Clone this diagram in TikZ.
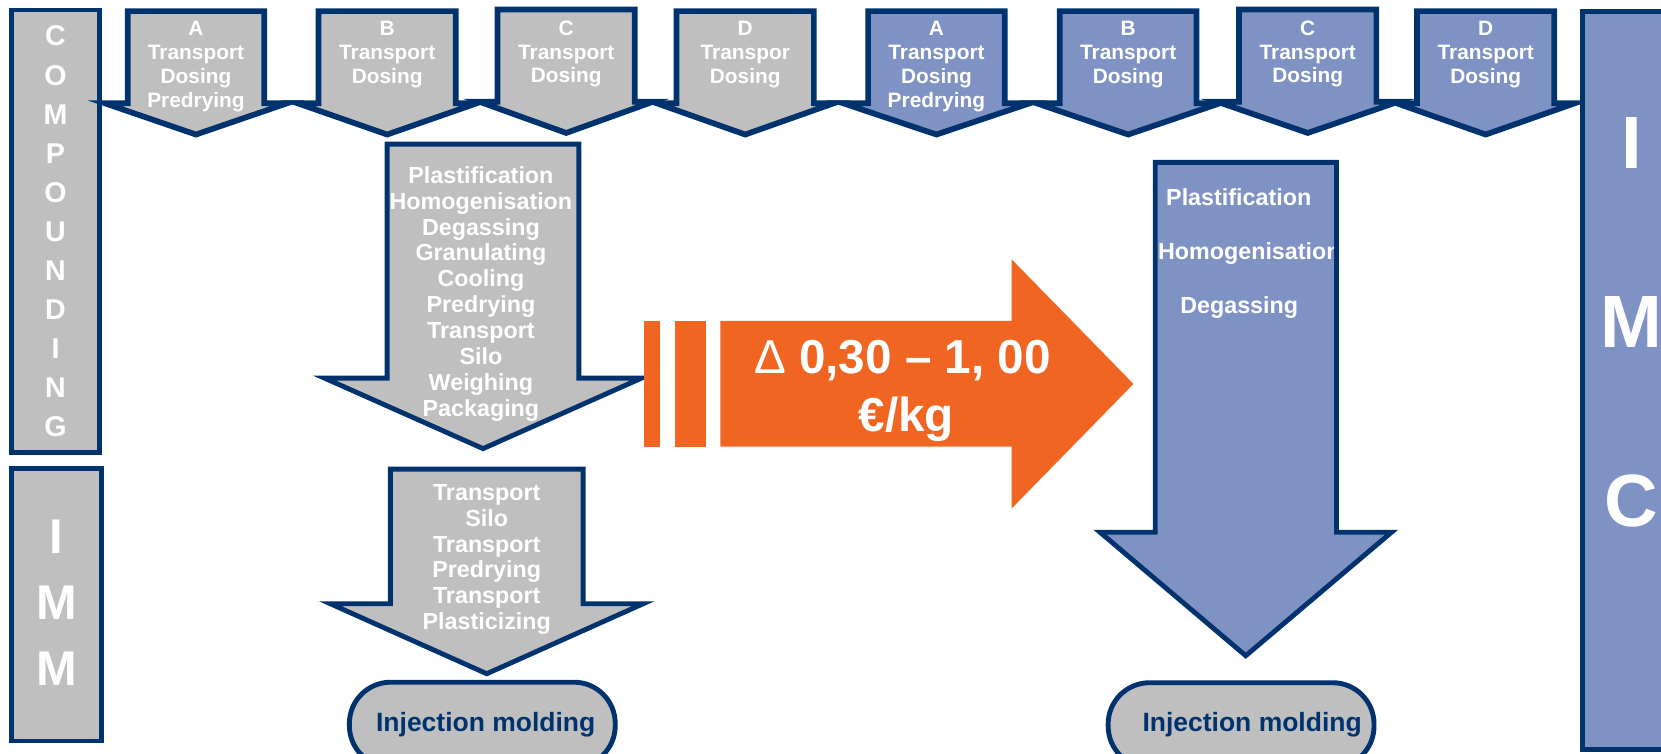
\documentclass[tikz,border=0pt]{standalone}
\usepackage{fontspec}
\setmainfont{Liberation Sans}
\definecolor{navy}{RGB}{0,51,110}
\definecolor{grayfill}{RGB}{191,191,191}
\definecolor{bluefill}{RGB}{127,146,196}
\definecolor{orangefill}{RGB}{240,101,34}
\newcommand{\dnarrow}[7]{%
  \draw[#1] ({#2-#3},#4) -- ({#2+#3},#4) -- ({#2+#3},#5) -- ({#2+#6},#5) -- (#2,#7) -- ({#2-#6},#5) -- ({#2-#3},#5) -- cycle;}
\tikzset{
  grayshape/.style={fill=grayfill, draw=navy, line width=4.6pt},
  blueshape/.style={fill=bluefill, draw=navy, line width=4.6pt},
  graychev/.style={grayshape, line width=5.4pt},
  bluechev/.style={blueshape, line width=5.4pt},
  chevtext/.style={text=white, font=\bfseries\fontsize{19.7}{22.5}\selectfont, align=center, anchor=north, inner sep=0pt},
  bigtext/.style={text=white, font=\bfseries\fontsize{22}{24.4}\selectfont, align=center, anchor=north, inner sep=0pt},
  sidetext/.style={text=white, font=\bfseries\fontsize{22}{24.4}\selectfont, anchor=base west, inner sep=0pt},
  oval/.style={fill=grayfill, draw=navy, line width=4.6pt, minimum width=251pt, minimum height=80pt, rounded corners=39pt, inner sep=0pt},
  iotext/.style={text=navy, font=\bfseries\fontsize{25}{28}\selectfont, anchor=base, inner sep=0pt},
  orangetext/.style={text=white, font=\bfseries\fontsize{45}{54}\selectfont, anchor=base, inner sep=0pt},
}
\begin{document}
\begin{tikzpicture}[x=1pt,y=-1pt]
\useasboundingbox (0,0) rectangle (1568,711);
\clip (0,0) rectangle (1568,711);
\fill[white] (0,0) rectangle (1568,711);

% left side boxes
\draw[grayshape] (11,9.5) rectangle (94,427);
\node[text=white, font=\bfseries\fontsize{27}{36.9}\selectfont, align=center, anchor=north, inner sep=0pt] (comp) at (52.4,24.3)
  {C\\O\\M\\P\\O\\U\\N\\D\\I\\N\\G};
\draw[grayshape] (11,442) rectangle (95.5,699.5);
\node[text=white, font=\bfseries\fontsize{46}{62.5}\selectfont, align=center, anchor=north, inner sep=0pt] (imm) at (53.3,490.5)
  {I\\M\\M};

% gray top chevrons
\dnarrow{graychev}{185}{64.5}{10.5}{97.5}{86}{127}
\node[chevtext] (gA) at (185,20) {A\\Transport\\Dosing\\Predrying};
\dnarrow{graychev}{365.5}{64.8}{10.5}{97.5}{84.5}{127}
\node[chevtext] (gB) at (365.5,20) {B\\Transport\\Dosing};
\dnarrow{graychev}{534.5}{64.8}{9}{96}{82}{125.5}
\node[chevtext] (gC) at (534.5,19.3) {C\\Transport\\Dosing};
\dnarrow{graychev}{703.5}{64.8}{10.5}{97.5}{83.5}{127}
\node[chevtext] (gD) at (703.5,20) {D\\Transpor\\Dosing};

% blue top chevrons
\dnarrow{bluechev}{884}{64.5}{10.5}{97.5}{88}{127}
\node[chevtext] (bA) at (884,20) {A\\Transport\\Dosing\\Predrying};
\dnarrow{bluechev}{1065}{64.5}{10.5}{97.5}{86.5}{127}
\node[chevtext] (bB) at (1065,20) {B\\Transport\\Dosing};
\dnarrow{bluechev}{1234.5}{64.8}{9}{96}{85.5}{125.5}
\node[chevtext] (bC) at (1234.5,19.3) {C\\Transport\\Dosing};
\dnarrow{bluechev}{1402.5}{64.8}{10.5}{97.5}{84}{127}
\node[chevtext] (bD) at (1402.5,20) {D\\Transport\\Dosing};

% big gray compounding arrow
\dnarrow{grayshape}{456}{90.5}{136}{357}{149.5}{423.5}
\node[bigtext] (comptext) at (454,157)
  {Plastification\\Homogenisation\\Degassing\\Granulating\\Cooling\\Predrying\\Transport\\Silo\\Weighing\\Packaging};

% IMM arrow
\dnarrow{grayshape}{459.5}{91}{442.8}{570}{147.5}{636}
\node[bigtext] (immtext) at (459.5,457)
  {Transport\\Silo\\Transport\\Predrying\\Transport\\Plasticizing};

% orange arrow
\fill[orangefill] (608,303) rectangle (623,421.7);
\fill[orangefill] (637,303) rectangle (666.5,421.7);
\fill[orangefill] (680,303) -- (955,303) -- (955,244.8) -- (1070,362.4) -- (955,480) -- (955,421.7) -- (680,421.7) -- cycle;
\node[orangetext] (delta) at (852,353) {{\mdseries Δ} 0,30 – 1, 00};
\node[orangetext] (euro) at (855.5,407.5) {€/kg};

% blue big arrow
\fill[bluefill] (1090.5,153.3) -- (1261.7,153.3) -- (1261.7,502.5) -- (1313.5,502.5) -- (1176,619) -- (1038.5,502.5) -- (1090.5,502.5) -- cycle;
\begin{scope}
\clip (1090.5,153.3) rectangle (1261.7,502.5);
\node[sidetext] (bplast) at (1100.7,194) {Plastification};
\node[sidetext] (bhomo) at (1093,244.5) {Homogenisation};
\node[sidetext] (bdegas) at (1114,295.7) {Degassing};
\end{scope}
\draw[navy, line width=4.6pt] (1090.5,153.3) -- (1261.7,153.3) -- (1261.7,502.5) -- (1313.5,502.5) -- (1176,619) -- (1038.5,502.5) -- (1090.5,502.5) -- cycle;

% injection molding ovals
\node[oval] (ovalL) at (455.3,684) {};
\node[iotext] (ioL) at (458.5,691) {Injection molding};
\node[oval] (ovalR) at (1171.6,684.5) {};
\node[iotext] (ioR) at (1182,691) {Injection molding};

% IMC box
\draw[blueshape] (1494,10.5) rectangle (1640,707.3);
\node[text=white, font=\bfseries\fontsize{70}{169}\selectfont, align=center, anchor=north, inner sep=0pt] (imc) at (1540,111)
  {I\\M\\C};
\end{tikzpicture}
\end{document}
